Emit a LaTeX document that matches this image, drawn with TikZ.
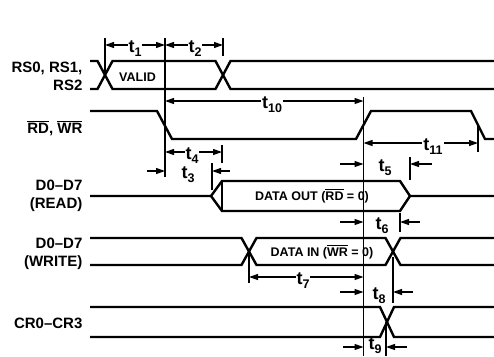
\documentclass[tikz,border=0pt]{standalone}
\usepackage{fontspec}
\setmainfont{Liberation Sans}
\usetikzlibrary{arrows.meta}

\newcommand\barra[1]{\leavevmode\vbox{\hrule height 0.9pt\kern 1.2pt\hbox{#1}}}
\newcommand\tsub[1]{{\fontsize{18}{18}\selectfont t}\raisebox{-4pt}{\fontsize{12.5}{12.5}\selectfont #1}}

\begin{document}
\begin{tikzpicture}[x=1pt, y=-1pt, >={Triangle[length=9pt, width=6pt]}, line width=1.2pt,
  senal/.style={line width=2.4pt, line join=miter},
  nombre/.style={anchor=base east, inner sep=0pt, font=\bfseries\fontsize{15}{18}\selectfont},
  tiempo/.style={anchor=base, inner sep=1pt, font=\bfseries},
  hueco/.style={tiempo, fill=white},
  dentro/.style={anchor=base, inner sep=0pt, font=\bfseries\fontsize{12.5}{12.5}\selectfont}]
  \useasboundingbox (0,0) rectangle (494,356);

  % nombres de las senales
  \node[nombre] (rs1) at (83,72) {RS0, RS1,};
  \node[nombre] (rs2) at (83,90) {RS2};
  \node[nombre] (rdwr) at (83,133) {\barra{RD}, \barra{WR}};
  \node[nombre] (rd1) at (83,190) {D0--D7};
  \node[nombre] (rd2) at (83,208) {(READ)};
  \node[nombre] (wr1) at (83,248) {D0--D7};
  \node[nombre] (wr2) at (83,266) {(WRITE)};
  \node[nombre] (cr) at (83,328) {CR0--CR3};

  % RS0-RS2
  \draw[senal] (90,61)--(97.5,61)--(112.5,89)--(215.5,89)--(230.5,61)--(494,61);
  \draw[senal] (90,89)--(97.5,89)--(112.5,61)--(215.5,61)--(230.5,89)--(494,89);
  \node[dentro] (valid) at (137.5,81) {VALID};
  % RD, WR
  \draw[senal] (90,111)--(157,111)--(172,139)--(356,139)--(371,111)--(471,111)--(485,139)--(494,139);
  % D0-D7 lectura
  \draw[senal] (90,196)--(211,196)--(222,181)--(400,181)--(410,196)--(494,196);
  \draw[senal] (211,196)--(222,211)--(400,211)--(410,196);
  \draw[line width=1.4pt] (222,181)--(222,211);
  \node[dentro] (dout) at (312,200) {DATA OUT (\barra{RD} = 0)};
  % D0-D7 escritura
  \draw[senal] (90,238)--(241.5,238)--(256.5,265)--(385.5,265)--(400.5,238)--(494,238);
  \draw[senal] (90,265)--(241.5,265)--(256.5,238)--(385.5,238)--(400.5,265)--(494,265);
  \node[dentro] (din) at (322,256) {DATA IN (\barra{WR} = 0)};
  % CR0-CR3
  \draw[senal] (90,307)--(380,307)--(394,337)--(494,337);
  \draw[senal] (90,337)--(380,337)--(394,307)--(494,307);

  % lineas de referencia
  \draw (105,38)--(105,75);
  \draw (165,38)--(165,177);
  \draw (223,38)--(223,56);
  \draw (363.5,97)--(363.5,356);
  \draw (478,125)--(478,152);
  \draw (222,145)--(222,163);
  \draw (212,163)--(212,190);
  \draw (410,157)--(410,180);
  \draw (400,213)--(400,232);
  \draw (249,252)--(249,283);
  \draw (393,257)--(393,303);
  \draw (386,322)--(386,356);

  % cotas entre lineas
  \draw[<->] (105,45)--(165,45);
  \draw[<->] (165,45)--(223,45);
  \draw[<->] (165,101)--(363.5,101);
  \draw[<->] (363.5,143)--(478,143);
  \draw[<->] (165,152)--(222,152);
  \draw[<->] (249,277)--(363.5,277);
  \node[hueco] (t1) at (135,52) {\tsub{1}};
  \node[hueco] (t2) at (195,52) {\tsub{2}};
  \node[hueco] (t10) at (272,108) {\tsub{10}};
  \node[hueco] (t11) at (433,150) {\tsub{11}};
  \node[hueco] (t4) at (192,159) {\tsub{4}};
  \node[hueco] (t7) at (303,284) {\tsub{7}};

  % cotas con flechas hacia dentro
  \draw[->] (147,171)--(165,171);   \draw[->] (230,171)--(212,171);
  \draw[->] (340,164)--(363.5,164); \draw[->] (432,164)--(410,164);
  \draw[->] (340,222)--(363.5,222); \draw[->] (420,222)--(400,222);
  \draw[->] (340,292)--(363.5,292); \draw[->] (413,292)--(393,292);
  \draw[->] (343,347)--(363.5,347); \draw[->] (407,347)--(386,347);
  \node[tiempo] (t3) at (188,178) {\tsub{3}};
  \node[tiempo] (t5) at (385,171) {\tsub{5}};
  \node[tiempo] (t6) at (382,229) {\tsub{6}};
  \node[tiempo] (t8) at (379,299) {\tsub{8}};
  \node[tiempo] (t9) at (375,349) {\tsub{9}};
\end{tikzpicture}
\end{document}
